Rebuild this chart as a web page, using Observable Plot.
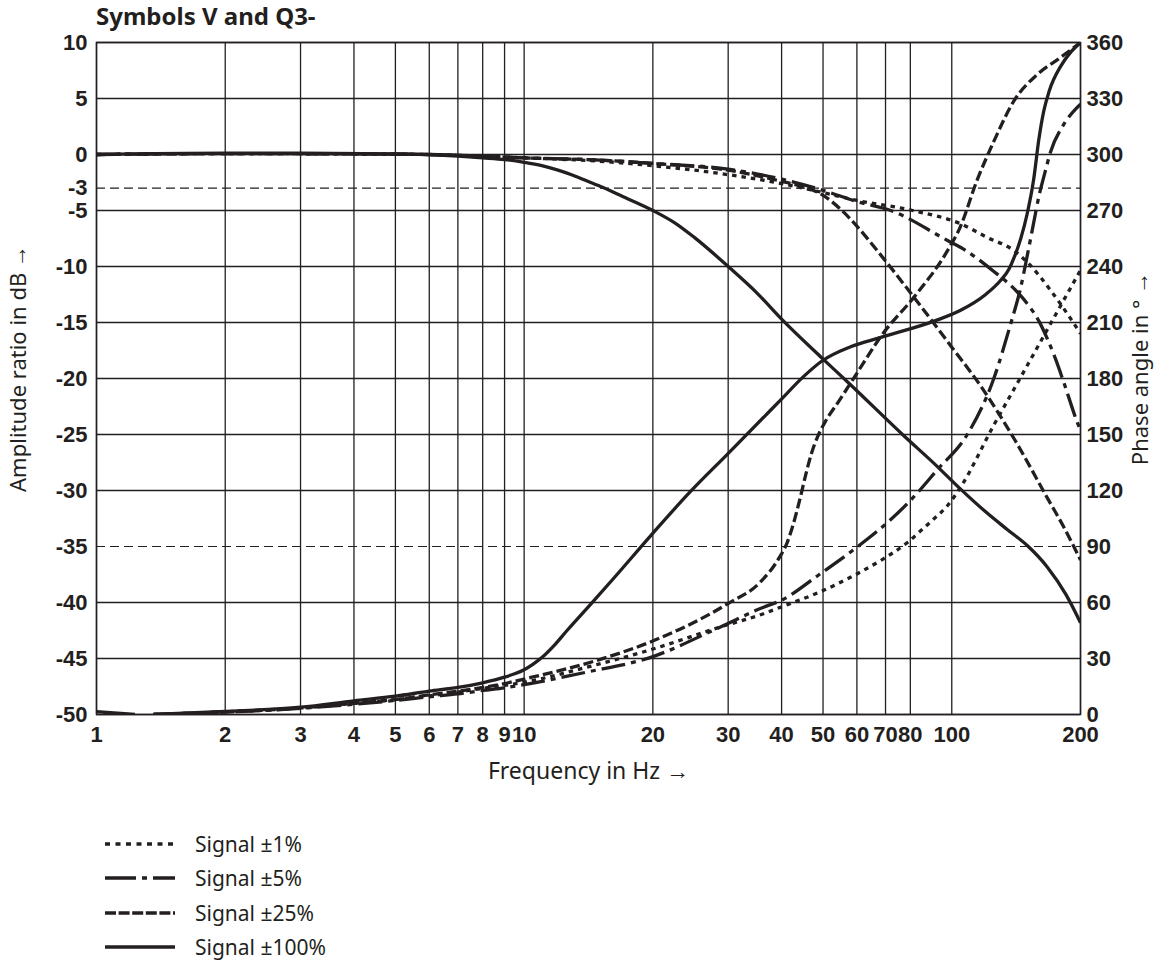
<!DOCTYPE html>
<html>
<head>
<meta charset="utf-8">
<script src="https://cdn.jsdelivr.net/npm/d3@7"></script>
<script src="https://cdn.jsdelivr.net/npm/@observablehq/plot@0.6"></script>
<style>
  html, body { margin: 0; padding: 0; background: #fff; }
  #wrap { position: relative; width: 1164px; height: 960px; }
  #title { position: absolute; left: 96px; top: 4px; font: bold 24px/24px "Noto Sans", sans-serif; color: #231f20; white-space: nowrap; }
  #legend { position: absolute; left: 105px; top: 827px; font: 21px "Noto Sans", sans-serif; color: #231f20; }
  .row { display: flex; align-items: center; height: 34.3px; }
  .row span { margin-left: 20px; }
</style>
</head>
<body>
<div id="wrap">
  <div id="chart"></div>
  <div id="title"></div>
  <div id="legend"></div>
</div>
<script>
const INK = "#231f20";
const titleText = "Symbols V and Q3-";
const xLabel = "Frequency in Hz →";
const yLeftLabel = "Amplitude ratio in dB →";
const yRightLabel = "Phase angle in ° →";

// tick / grid values
const freqTicks = [1, 2, 3, 4, 5, 6, 7, 8, 9, 10, 20, 30, 40, 50, 60, 70, 80, 100, 200];
const dbTicks = [10, 5, 0, -3, -5, -10, -15, -20, -25, -30, -35, -40, -45, -50];
const dbGrid = [10, 5, 0, -5, -10, -15, -20, -25, -30, -40, -45, -50];
const dbRefs = [-3, -35];
const phaseTicks = [0, 30, 60, 90, 120, 150, 180, 210, 240, 270, 300, 330, 360];

// series
const seriesNames = ["Signal ±1%", "Signal ±5%", "Signal ±25%", "Signal ±100%"];
const seriesDash = ["4.5,5", "24,6,5,6", "10,4", "none"];
const legendDash = ["5,5.5", "31,6,5,6", "11,2.6", "none"];

// amplitude [Hz, dB]
const amp1 = [[1,0],[2,0.08],[4,0.05],[6,0],[8,-0.15],[10,-0.3],[15,-0.6],[20,-1.0],[30,-1.8],[40,-2.6],[50,-3.4],[60,-4.1],[81,-5.0],[105,-6.2],[121,-7.4],[140,-8.6],[150,-9.6],[160,-10.8],[170,-12.1],[180,-13.4],[190,-14.7],[200,-16]];
const amp5 = [[1,0],[2,0.08],[4,0.05],[6,0],[8,-0.15],[10,-0.3],[15,-0.5],[20,-0.8],[30,-1.3],[40,-2.2],[50,-3.2],[60,-4.2],[72,-5.0],[98,-7.7],[105,-8.3],[125,-10.4],[140,-12.0],[150,-13.3],[160,-14.9],[167.5,-16.5],[175,-18.3],[183,-20.4],[197,-24],[200,-24.6]];
const amp25 = [[1,0],[2,0.08],[4,0.05],[6,0],[8,-0.15],[10,-0.3],[15,-0.5],[20,-0.8],[30,-1.4],[40,-2.4],[45,-2.9],[49.3,-3.5],[55,-4.9],[60,-6.4],[67,-8.6],[81.4,-12.7],[100,-17.2],[117,-20.7],[140,-25.4],[167.5,-30.7],[183,-33.3],[200,-36.2]];
const amp100 = [[1,0],[2,0.12],[3,0.12],[5,0.05],[7,-0.15],[8,-0.3],[9,-0.45],[10,-0.7],[11,-1.0],[12,-1.4],[13,-1.85],[14,-2.35],[15.3,-2.95],[17,-3.75],[20,-5],[22.5,-6.1],[25,-7.4],[30,-10],[35,-12.35],[40,-14.7],[49.8,-18.2],[57.4,-20.4],[77.7,-25.2],[91,-27.6],[105,-29.9],[120,-31.9],[135,-33.5],[151,-35],[167,-36.8],[185,-39.3],[200,-41.8]];

// phase [Hz, degrees]
const phase1 = [[1.36,0],[2,1.3],[3,3.5],[4,6],[5,8],[6,10],[7,12],[8,14],[9,15.6],[10,17.3],[14,25.3],[20.1,35.2],[28.7,46.8],[36.3,54],[39.8,57.5],[49,65.5],[60,75.3],[68.3,82.6],[78.9,92.3],[84.2,98],[90,104],[97.8,112],[105,122],[125.4,155],[144.7,180.4],[160,198.3],[179.7,219],[200,238]];
const phase5 = [[1.36,0],[2,1.3],[3,3.3],[4,5.5],[5,7.5],[6,9.5],[7,11],[8,12.9],[9,14.3],[10,16],[14,22.7],[19.7,30.5],[28.7,46.8],[36.3,57.5],[39.8,61],[49,75],[60,89.6],[68,99.5],[80,114.6],[92.2,130.7],[108.7,150],[125.4,180],[137.6,210],[144.7,228],[150.5,247],[155,262],[160,278],[165,290],[170,301],[182.6,316],[196,325],[200,327]];
const phase25 = [[1.36,0],[2,1.5],[3,3.5],[4,6],[5,8],[6,10.5],[7,12.5],[8,14.5],[9,16.6],[10,19],[14.8,29],[20.1,39.6],[29.9,59.3],[35.7,71],[39.5,84],[41.2,92],[42.6,102],[44.1,115],[45.5,128],[47,140],[48.6,149],[50.5,156.5],[54.5,168],[59.2,180.7],[69,204],[81.6,223.6],[97.8,248.6],[104.6,261],[114.5,286],[125.4,307],[140,329],[158.7,343],[179.7,352],[200,360]];
const phase100 = [[1,1.5],[1.23,0],[1.3,NaN],[1.36,0],[2,1.6],[3,3.9],[4,7.3],[5,9.8],[6,12.5],[7,14.5],[8,17],[9,20],[9.5,21.8],[10,24],[10.5,27],[11,30.5],[11.7,36.5],[12.6,45],[14.3,59],[16.2,73],[19.8,96],[24.5,119.5],[29.9,139.5],[39.6,168],[45,181],[49.8,189.5],[58,197],[68.2,202],[91.6,211],[104.6,216.4],[120,225],[130,232.5],[136,238.5],[140,245],[145,255],[150,268],[155.5,287],[159.8,308],[164,323],[169,334],[180,347.5],[190,355],[200,360]];

const ampSeries = [amp1, amp5, amp25, amp100];
const phaseSeries = [phase1, phase5, phase25, phase100];

// right axis: 0..360 deg shares the frame with -50..10 dB
const degToY = d => d / 6 - 50;

const lineMarks = [];
seriesNames.forEach((name, i) => {
  const common = {curve: "monotone-x", stroke: INK, strokeWidth: 3.3, strokeDasharray: seriesDash[i], strokeLinecap: "butt", clip: true};
  lineMarks.push(Plot.line(ampSeries[i], {x: d => d[0], y: d => d[1], ...common}));
  lineMarks.push(Plot.line(phaseSeries[i], {x: d => d[0], y: d => degToY(d[1]), ...common}));
});

const labelFont = "'Noto Sans', sans-serif";
const chart = Plot.plot({
  width: 1164,
  height: 780,
  marginTop: 42,
  marginBottom: 66,
  marginLeft: 96,
  marginRight: 84,
  x: {type: "log", domain: [1, 200], axis: null},
  y: {domain: [-50, 10], axis: null},
  style: {fontFamily: "'Liberation Sans', Arial, sans-serif", fontSize: "22px", color: INK, background: "white", overflow: "visible"},
  marks: [
    Plot.gridX(freqTicks, {stroke: INK, strokeOpacity: 1, strokeWidth: 1.3}),
    Plot.gridY(dbGrid, {stroke: INK, strokeOpacity: 1, strokeWidth: 1.3}),
    Plot.ruleY(dbRefs, {stroke: INK, strokeWidth: 1.1, strokeDasharray: "9,5"}),
    Plot.frame({stroke: INK, strokeWidth: 1.5}),
    Plot.text(freqTicks, {x: d => d, text: d => String(d), frameAnchor: "bottom", dy: 20, fontWeight: "bold", lineAnchor: "middle", fill: INK}),
    Plot.axisY(dbTicks, {anchor: "left", tickSize: 0, tickPadding: 9, fontWeight: "bold", tickFormat: d => String(d), label: null}),
    Plot.axisY(phaseTicks.map(degToY), {anchor: "right", tickSize: 0, tickPadding: 6, fontWeight: "bold", tickFormat: d => String(Math.round((d + 50) * 6)), label: null}),
    ...lineMarks,
    Plot.text([xLabel], {frameAnchor: "bottom", dy: 57, fontFamily: labelFont, fontSize: 23, lineAnchor: "middle", textAnchor: "middle", fill: INK}),
    Plot.text([yLeftLabel], {frameAnchor: "left", dx: -78, dy: -10, rotate: -90, fontFamily: labelFont, fontSize: 22, lineAnchor: "middle", textAnchor: "middle", fill: INK}),
    Plot.text([yRightLabel], {frameAnchor: "right", dx: 60, dy: -10, rotate: -90, fontFamily: labelFont, fontSize: 22, lineAnchor: "middle", textAnchor: "middle", fill: INK})
  ]
});
document.getElementById("chart").appendChild(chart);
document.getElementById("title").textContent = titleText;

const legend = document.getElementById("legend");
seriesNames.forEach((name, i) => {
  const row = document.createElement("div");
  row.className = "row";
  const ns = "http://www.w3.org/2000/svg";
  const svg = document.createElementNS(ns, "svg");
  svg.setAttribute("width", "70");
  svg.setAttribute("height", "10");
  const ln = document.createElementNS(ns, "line");
  ln.setAttribute("x1", "0"); ln.setAttribute("x2", "70");
  ln.setAttribute("y1", "5"); ln.setAttribute("y2", "5");
  ln.setAttribute("stroke", INK);
  ln.setAttribute("stroke-width", "3.3");
  if (legendDash[i] !== "none") ln.setAttribute("stroke-dasharray", legendDash[i]);
  svg.appendChild(ln);
  const sp = document.createElement("span");
  sp.textContent = name;
  row.appendChild(svg);
  row.appendChild(sp);
  legend.appendChild(row);
});
</script>
</body>
</html>
